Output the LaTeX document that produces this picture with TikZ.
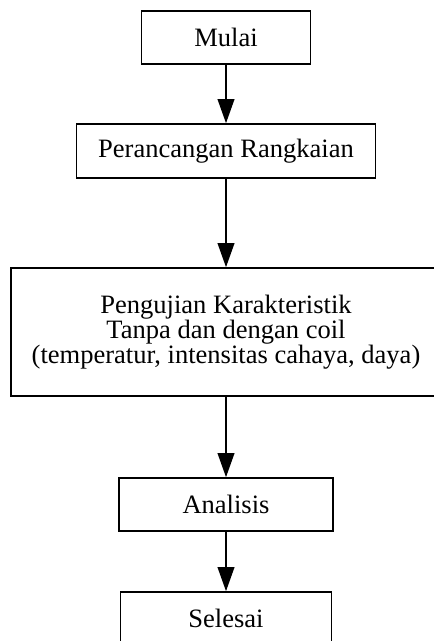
\documentclass[tikz,border=0pt]{standalone}
\usepackage{fontspec}
\setmainfont{Liberation Serif}
\usetikzlibrary{arrows.meta,positioning}

\begin{document}
\begin{tikzpicture}[x=0.75pt, y=-0.75pt,
    box/.style={draw, line width=1.2pt, inner sep=0pt, align=center,
        font=\fontsize{19.9}{18.75}\selectfont},
    flow/.style={-{Triangle[length=18pt, width=12.5pt]}, line width=1.2pt}]
    \useasboundingbox (0,0) rectangle (434,641);

    % Start
    \node[box, minimum width=126.75pt, minimum height=39.75pt] (mulai) at (226,37.5) {Mulai};

    % Circuit design
    \node[box, minimum width=224.25pt, minimum height=40.5pt] (rancang) at (226,151) {Perancangan Rangkaian};

    % Characteristic test (box runs past the right edge)
    \node[box, minimum width=322.5pt, minimum height=96pt] (uji) at (226,332)
        {Pengujian Karakteristik\\Tanpa dan dengan coil\\(temperatur, intensitas cahaya, daya)};

    % Analysis and end
    \node[box, minimum width=160.5pt, minimum height=39.75pt] (analisis) at (226,504.5) {Analisis};
    \node[box, minimum width=158.25pt, minimum height=39.75pt] (selesai) at (226,618.5) {Selesai};

    % Arrows
    \draw[flow] (mulai) -- (rancang);
    \draw[flow] (rancang) -- (uji);
    \draw[flow] (uji) -- (analisis);
    \draw[flow] (analisis) -- (selesai);
\end{tikzpicture}
\end{document}
